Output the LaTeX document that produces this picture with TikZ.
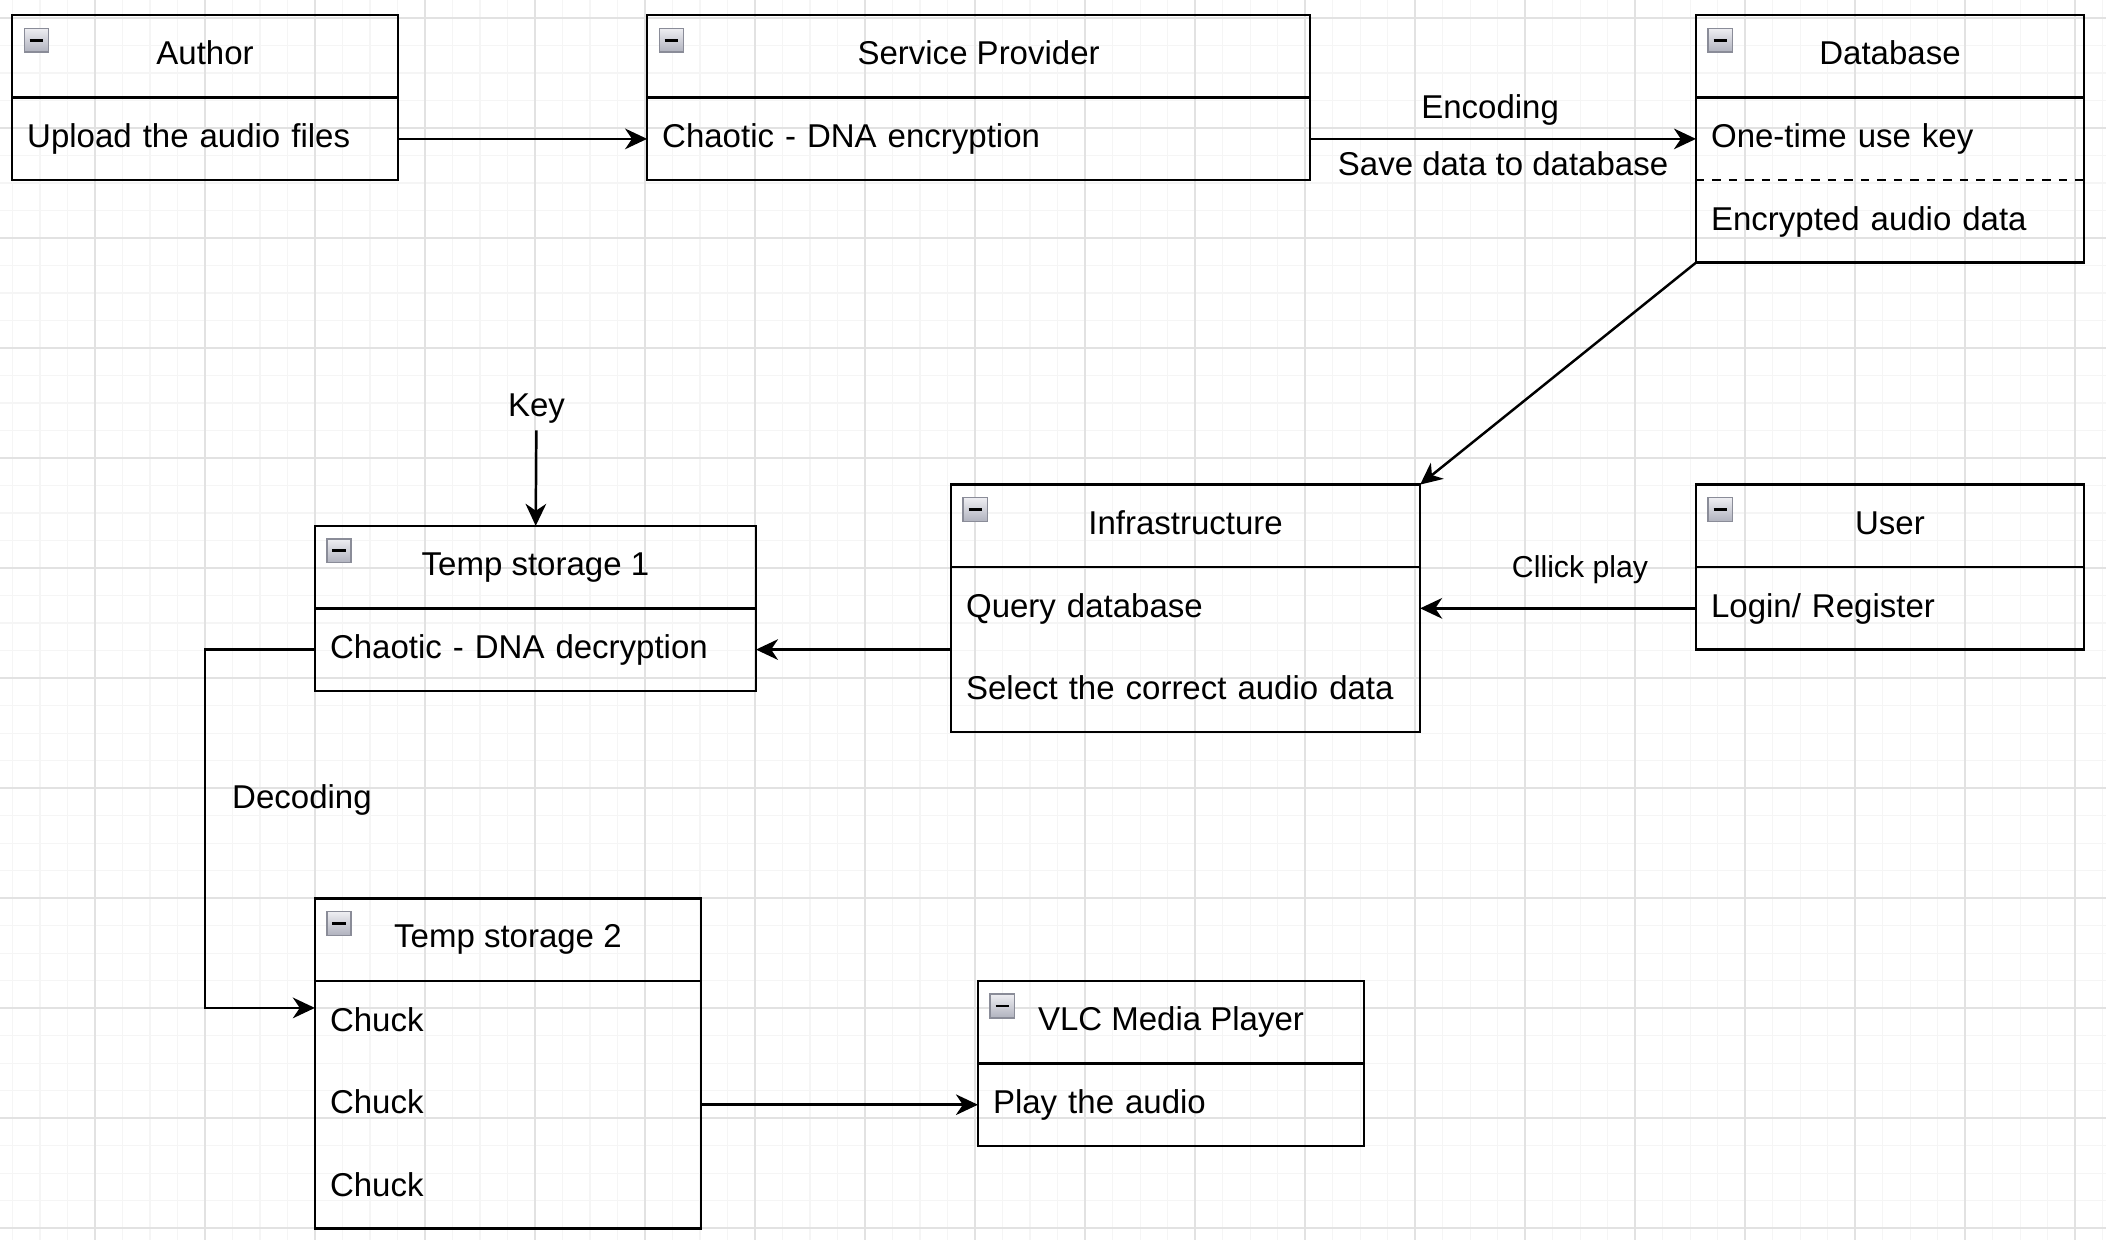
\documentclass[tikz,border=0pt]{standalone}
\usepackage{fontspec}
\setmainfont{Liberation Sans}
\usetikzlibrary{positioning,arrows.meta}

\definecolor{gridminor}{RGB}{245,245,245}
\definecolor{gridmajor}{RGB}{226,226,226}
\definecolor{icontop}{RGB}{238,238,242}
\definecolor{iconbot}{RGB}{176,178,190}
\definecolor{iconline}{RGB}{138,140,152}

\tikzset{
  lanehead/.style={draw, line width=0.9pt, minimum width=#1, minimum height=30pt,
    inner sep=0pt, outer sep=0pt, text height=9pt, text depth=3pt,
    font=\fontsize{12pt}{14pt}\selectfont},
  lanerow/.style={minimum height=30pt, inner xsep=5.5pt, inner ysep=0pt, outer sep=0pt,
    text width=#1, text height=9pt, text depth=2.5pt, align=left,
    font=\fontsize{12pt}{14pt}\selectfont},
  laneframe/.style={draw, line width=0.9pt},
  conn/.style={line width=0.9pt, -{Stealth[length=8pt,width=7.5pt,inset=2.5pt]}},
  edgelabel/.style={inner sep=1pt, font=\fontsize{12pt}{14pt}\selectfont},
}

% collapse icon in the top left corner of a header
\newcommand{\minusicon}[1]{%
  \draw[iconline, line width=0.5pt, top color=icontop, bottom color=iconbot]
    ([xshift=4.4pt,yshift=-4.8pt]#1.north west) rectangle ++(8.8,8.6);
  \draw[line width=1pt] ([xshift=6.4pt,yshift=-9.1pt]#1.north west) -- ++(4.8,0);}

\begin{document}
\begin{tikzpicture}[x=1pt, y=-1pt]
    \useasboundingbox (0,0) rectangle (765.8,450.9);
    \fill[white] (0,0) rectangle (765.8,450.9);

    % grid
    \foreach \gx in {0,...,77}
        \draw[gridminor, line width=0.4pt] ({-5.45+10*\gx},0) -- ({-5.45+10*\gx},450.9);
    \foreach \gy in {0,...,45}
        \draw[gridminor, line width=0.4pt] (0,{-3.45+10*\gy}) -- (765.8,{-3.45+10*\gy});
    \foreach \gx in {1,...,19}
        \draw[gridmajor, line width=0.5pt] ({-5.45+40*\gx},0) -- ({-5.45+40*\gx},450.9);
    \foreach \gy in {0,...,11}
        \draw[gridmajor, line width=0.5pt] (0,{6.55+40*\gy}) -- (765.8,{6.55+40*\gy});

    % Author
    \node[lanehead=140.3pt, anchor=north west] (authorH) at (4.4,5.5) {Author};
    \node[lanerow=129.3pt, below=0pt of authorH] (author1) {Upload the audio files};
    \draw[laneframe] (authorH.north west) rectangle (author1.south east);
    \minusicon{authorH}

    % Service Provider
    \node[lanehead=241.1pt, anchor=north west] (serviceH) at (235.3,5.5) {Service Provider};
    \node[lanerow=230.1pt, below=0pt of serviceH] (service1) {Chaotic - DNA encryption};
    \draw[laneframe] (serviceH.north west) rectangle (service1.south east);
    \minusicon{serviceH}

    % Database
    \node[lanehead=141.1pt, anchor=north west] (dbH) at (616.7,5.5) {Database};
    \node[lanerow=130.1pt, below=0pt of dbH] (db1) {One-time use key};
    \node[lanerow=130.1pt, below=0pt of db1] (db2) {Encrypted audio data};
    \draw[laneframe] (dbH.north west) rectangle (db2.south east);
    \draw[laneframe, dash pattern=on 3pt off 3pt] (db1.south west) -- (db1.south east);
    \minusicon{dbH}

    % Infrastructure
    \node[lanehead=170.6pt, anchor=north west] (infraH) at (345.8,176.2) {Infrastructure};
    \node[lanerow=159.6pt, below=0pt of infraH] (infra1) {Query database};
    \node[lanerow=159.6pt, below=0pt of infra1] (infra2) {Select the correct audio data};
    \draw[laneframe] (infraH.north west) rectangle (infra2.south east);
    \minusicon{infraH}

    % User
    \node[lanehead=141.1pt, anchor=north west] (userH) at (616.7,176.2) {User};
    \node[lanerow=130.1pt, below=0pt of userH] (user1) {Login/ Register};
    \draw[laneframe] (userH.north west) rectangle (user1.south east);
    \minusicon{userH}

    % Temp storage 1
    \node[lanehead=160.4pt, anchor=north west] (temp1H) at (114.5,191.2) {Temp storage 1};
    \node[lanerow=149.4pt, below=0pt of temp1H] (temp1a) {Chaotic - DNA decryption};
    \draw[laneframe] (temp1H.north west) rectangle (temp1a.south east);
    \minusicon{temp1H}

    % Temp storage 2
    \node[lanehead=140.4pt, anchor=north west] (temp2H) at (114.5,326.7) {Temp storage 2};
    \node[lanerow=129.4pt, below=0pt of temp2H] (chuck1) {Chuck};
    \node[lanerow=129.4pt, below=0pt of chuck1] (chuck2) {Chuck};
    \node[lanerow=129.4pt, below=0pt of chuck2] (chuck3) {Chuck};
    \draw[laneframe] (temp2H.north west) rectangle (chuck3.south east);
    \minusicon{temp2H}

    % VLC Media Player
    \node[lanehead=140.4pt, anchor=north west] (vlcH) at (355.6,356.7) {VLC Media Player};
    \node[lanerow=129.4pt, below=0pt of vlcH] (vlc1) {Play the audio};
    \draw[laneframe] (vlcH.north west) rectangle (vlc1.south east);
    \minusicon{vlcH}

    \node[edgelabel, inner sep=2.5pt] (key) at (195.1,148.4) {Key};

    % connectors
    \draw[conn] (author1.east) -- (service1.west);
    \draw[conn] (service1.east) -- node[edgelabel, xshift=-4.7pt, yshift=10.5pt] {Encoding}
        node[edgelabel, yshift=-9pt] {Save data to database} (db1.west);
    \draw[conn] (db2.south west) -- (infraH.north east);
    \draw[conn] (user1.west) -- node[edgelabel, xshift=8pt, yshift=14pt,
        font=\fontsize{11pt}{13pt}\selectfont] {Cllick play} (infra1.east);
    \draw[conn] (infra1.south west) -- (temp1a.east);
    \draw[conn] (key) -- (temp1H);
    \draw[conn] (temp1a.west) -- ++(-40,0) |- node[edgelabel, pos=0.21, xshift=35.3pt] {Decoding}
        ([yshift=5.2pt]chuck1.west);
    \draw[conn] (chuck2.east) -- (vlc1.west);
\end{tikzpicture}
\end{document}
